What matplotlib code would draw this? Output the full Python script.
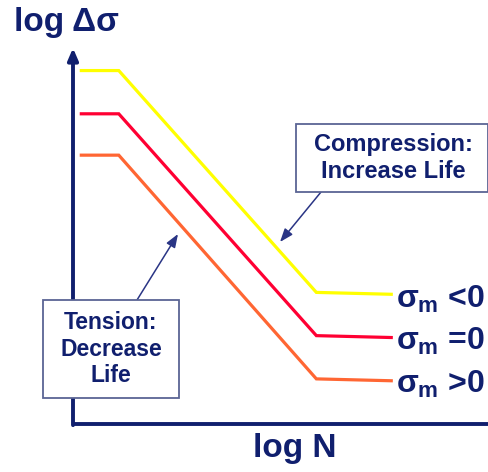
import matplotlib
matplotlib.use('Agg')
import matplotlib.pyplot as plt

plt.rcParams['font.family'] = ['Liberation Sans', 'DejaVu Sans']
plt.rcParams['font.weight'] = 'bold'
plt.rcParams['mathtext.fontset'] = 'custom'
plt.rcParams['mathtext.rm'] = 'Liberation Sans:bold'
plt.rcParams['mathtext.it'] = 'Liberation Sans:bold'
plt.rcParams['mathtext.bf'] = 'Liberation Sans:bold'

# S-N 曲線の折れ点 (log N) と各平均応力での log Δσ
log_n = [0.2, 1.1, 5.85, 7.65]
stress_compression = [9.4, 9.4, 3.5, 3.45]
stress_zero = [8.25, 8.25, 2.35, 2.3]
stress_tension = [7.15, 7.15, 1.2, 1.15]
curve_labels = [r'$\sigma_m$ <0', r'$\sigma_m$ =0', r'$\sigma_m$ >0']
curve_colors = ['#ffff00', '#ff0033', '#ff6633']

NAVY = '#101f6e'
W, H = 489, 472


def px(x, y):
	# 左上基準のピクセル位置 -> figure fraction
	return x / W, 1 - y / H


fig = plt.figure(figsize=(W / 100, H / 100), dpi=100)
ax = fig.add_axes([73 / W, 48 / H, (W - 73) / W, (424 - 48) / H])
ax.set_xlim(0, 10)
ax.set_ylim(0, 10)
ax.axis('off')

# 座標軸
ax.plot([0, 1], [0, 0], transform=ax.transAxes, color=NAVY, lw=2.8,
		solid_capstyle='butt', clip_on=False)
ax.annotate('', xy=(0, 1), xytext=(0, -0.003), xycoords='axes fraction',
			arrowprops=dict(arrowstyle='-|>,head_length=0.7,head_width=0.3',
							color=NAVY, lw=2.8, shrinkA=0, shrinkB=0))

# 曲線
series = [stress_compression, stress_zero, stress_tension]
for s, c, lab, ty in zip(series, curve_colors, curve_labels, [299, 341, 384]):
	ax.plot(log_n, s, color=c, lw=2.3, solid_joinstyle='miter')
	fig.text(*px(396, ty), lab, color=NAVY, fontsize=23, va='center', ha='left')

# 軸ラベル
fig.text(*px(14, 22), 'log Δσ', color=NAVY, fontsize=24, va='center', ha='left')
fig.text(*px(253, 448), 'log N', color=NAVY, fontsize=24, va='center', ha='left')

# 注記ボックス (白塗りで軸線を隠す)
for (x0, y0, x1, y1) in [(296, 124, 488, 192), (43, 300, 179, 398)]:
	fig.patches.append(plt.Rectangle(px(x0, y1), (x1 - x0) / W, (y1 - y0) / H,
									 transform=fig.transFigure, facecolor='white',
									 edgecolor='#5a6494', lw=1.3, zorder=2))
fig.text(*px(393, 158), 'Compression:\nIncrease Life', color=NAVY, fontsize=17,
		 ha='center', va='center', linespacing=1.2, zorder=3)
fig.text(*px(111, 349), 'Tension:\nDecrease\nLife', color=NAVY, fontsize=16.5,
		 ha='center', va='center', linespacing=1.2, zorder=3)

# 矢印
arrow = dict(arrowstyle='-|>,head_length=0.8,head_width=0.3', color='#2a3585',
			 lw=1.1, shrinkA=0, shrinkB=0)
ax.annotate('', xy=px(280, 242), xytext=px(321, 192), xycoords='figure fraction',
			arrowprops=arrow)
ax.annotate('', xy=px(178, 234), xytext=px(137, 300), xycoords='figure fraction',
			arrowprops=arrow)

fig.savefig('out.png', dpi=100)
